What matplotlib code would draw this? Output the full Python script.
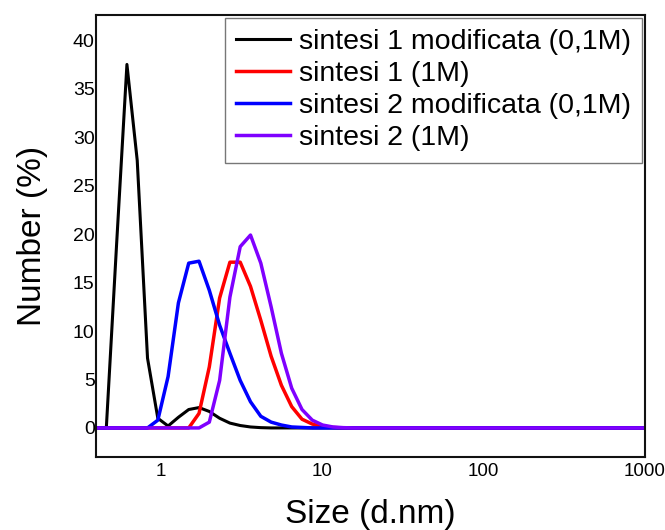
import numpy as np
import matplotlib as mpl
import matplotlib.pyplot as plt

mpl.rcParams['font.family'] = ['Liberation Sans', 'DejaVu Sans']

# size classes (d.nm)
size = [0.4, 0.4632, 0.5365, 0.6213, 0.7195, 0.8332, 0.9649, 1.117, 1.294, 1.499,
        1.736, 2.010, 2.328, 2.696, 3.122, 3.615, 4.187, 4.849, 5.615, 6.503,
        7.531, 8.721, 10.10, 11.70, 13.54, 15.69, 18.17, 21.04, 24.36, 28.21,
        32.67, 37.84, 43.82, 50.75, 58.77, 68.06, 78.82, 91.28, 105.7, 122.4,
        141.8, 164.2, 190.1, 220.2, 255.0, 295.3, 342.0, 396.1, 458.7, 531.2,
        615.1, 712.4, 825.0, 955.4, 1106]

def pad(vals):
    return vals + [0] * (len(size) - len(vals))

s1_mod = pad([0, 0, 19.0, 37.5, 27.6, 7.2, 1.0, 0.2, 1.1, 1.9,
              2.1, 1.7, 1.0, 0.5, 0.25, 0.1, 0.03])
s1 = pad([0, 0, 0, 0, 0, 0, 0, 0, 0, 0,
          1.5, 6.3, 13.4, 17.1, 17.1, 14.6, 11.1, 7.4, 4.4, 2.2,
          0.9, 0.4, 0.15, 0.05])
s2_mod = pad([0, 0, 0, 0, 0, 0, 0.8, 5.3, 12.9, 17.0,
              17.2, 14.2, 10.6, 7.7, 4.9, 2.7, 1.2, 0.6, 0.3, 0.1,
              0.05])
s2 = pad([0, 0, 0, 0, 0, 0, 0, 0, 0, 0,
          0, 0.6, 4.9, 13.5, 18.7, 19.9, 17.0, 12.5, 7.7, 4.1,
          1.9, 0.8, 0.3, 0.1, 0.03])

labels = ['sintesi 1 modificata (0,1M)', 'sintesi 1 (1M)',
          'sintesi 2 modificata (0,1M)', 'sintesi 2 (1M)']
colors = ['black', '#ff0000', '#0000ff', '#7f00ff']

fig = plt.figure(figsize=(6.65, 5.3), dpi=100)
ax = fig.add_axes([0.1444, 0.1377, 0.8256, 0.834])

for y, lab, c in zip([s1_mod, s1, s2_mod, s2], labels, colors):
    lw = 2.2 if c == 'black' else 2.5
    ax.plot(size, y, color=c, lw=lw, label=lab)

ax.set_xscale('log')
ax.set_xlim(0.4, 1000)
ax.set_ylim(-3, 42.6)
ax.set_xticks([1, 10, 100, 1000])
ax.set_xticklabels(['1', '10', '100', '1000'])
ax.xaxis.set_minor_locator(mpl.ticker.NullLocator())
ax.set_yticks(np.arange(0, 41, 5))
ax.tick_params(axis='x', length=0, pad=4, labelsize=13.5)
ax.tick_params(axis='y', length=0, pad=1, labelsize=14)

for sp in ax.spines.values():
    sp.set_linewidth(1.5)
    sp.set_color('#111111')

ax.set_xlabel('Size (d.nm)', fontsize=24, labelpad=14)
ax.set_ylabel('Number (%)', fontsize=24, labelpad=18)

leg = ax.legend(loc='upper right', bbox_to_anchor=(1.0, 1.0), fontsize=20.5,
                frameon=True, fancybox=False, borderaxespad=0.1,
                labelspacing=0.21, handlelength=1.9, handletextpad=0.3,
                borderpad=0.4)
leg.get_frame().set_edgecolor('#555555')
leg.get_frame().set_linewidth(1.0)

fig.savefig('out.png', dpi=100)
